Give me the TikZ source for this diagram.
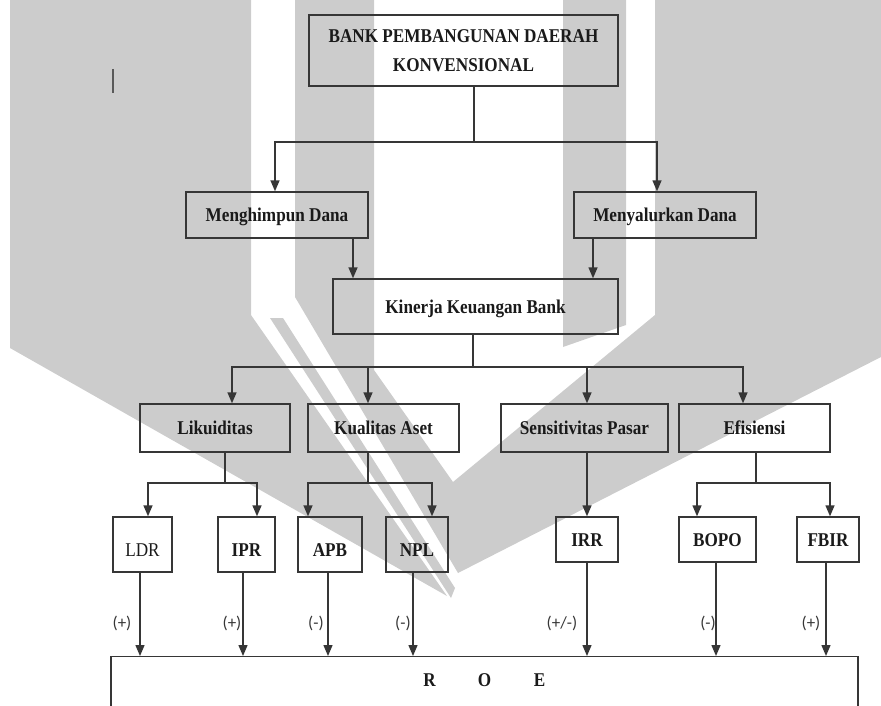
\documentclass[tikz,border=0pt]{standalone}
\usepackage{fontspec}
\usepackage{graphicx}
\setmainfont{Liberation Serif}
\newfontfamily\lblfont{Carlito}
\usetikzlibrary{arrows.meta,calc}
\definecolor{wmcol}{HTML}{CCCCCC}
\definecolor{lncol}{HTML}{363636}
\definecolor{txcol}{HTML}{1A1A1A}
\newcommand{\cz}[1]{\scalebox{0.88}[1]{#1}}
\begin{document}
\begin{tikzpicture}[x=1pt,y=-1pt,
  box/.style={draw=lncol, line width=1.4pt, inner sep=0pt, text=txcol,
    font=\fontsize{19.5}{24}\selectfont\bfseries},
  onel/.style={text height=13.5pt, text depth=0pt},
  tall/.style={text height=24.5pt, text depth=0pt},
  wire/.style={draw=lncol, line width=1.4pt},
  arr/.style={wire, -{Triangle[length=11pt,width=9pt]}},
  sg/.style={font=\lblfont\fontsize{17}{20}\selectfont, text=lncol, inner sep=0pt}]
\clip (0,0) rectangle (881,706);
% watermark
\fill[wmcol] (10,0) -- (251,0) -- (251,315) -- (447,596) -- (10,348) -- cycle;
\fill[wmcol] (270,318) -- (283,318) -- (455,588) -- (451,598) -- cycle;
\fill[wmcol] (295,0) -- (374,0) -- (374,370) -- (453,482) -- (655,315) -- (655,0)
   -- (881,0) -- (881,357) -- (458,573) -- (295,297) -- cycle;
\fill[wmcol] (563,0) -- (626,0) -- (626,325) -- (563,347) -- cycle;
\draw[draw=black!65, line width=1.2pt] (113,69) -- (113,93);
% nodes
\node[box, minimum width=309, minimum height=71, align=center,
  font=\fontsize{19.5}{29}\selectfont\bfseries] (top) at (463.5,50.5)
  {\cz{BANK PEMBANGUNAN DAERAH}\\\cz{KONVENSIONAL}};
\node[box, onel, minimum width=182, minimum height=46] (mh) at (277,215) {\cz{Menghimpun Dana}};
\node[box, onel, minimum width=182, minimum height=46] (my) at (665,215) {\cz{Menyalurkan Dana}};
\node[box, onel, minimum width=285, minimum height=55] (kin) at (475.5,306.5) {\cz{Kinerja Keuangan Bank}};
\node[box, onel, minimum width=150, minimum height=48] (lik) at (215,428) {\cz{Likuiditas}};
\node[box, onel, minimum width=151, minimum height=48] (kua) at (383.5,428) {\cz{Kualitas Aset}};
\node[box, onel, minimum width=167, minimum height=48] (sen) at (584.5,428) {\cz{Sensitivitas Pasar}};
\node[box, onel, minimum width=151, minimum height=48] (efi) at (754.5,428) {\cz{Efisiensi}};
\node[box, tall, minimum width=59, minimum height=55] (ldr) at (142.5,544.5) {\cz{\mdseries LDR}};
\node[box, tall, minimum width=57, minimum height=55] (ipr) at (246.5,544.5) {\cz{IPR}};
\node[box, tall, minimum width=64, minimum height=55] (apb) at (330,544.5) {\cz{APB}};
\node[box, tall, minimum width=62, minimum height=55] (npl) at (417,544.5) {\cz{NPL}};
\node[box, onel, minimum width=62, minimum height=45] (irr) at (587,539.5) {\cz{IRR}};
\node[box, onel, minimum width=77, minimum height=45] (bopo) at (717.5,539.5) {\cz{BOPO}};
\node[box, onel, minimum width=62, minimum height=45] (fbir) at (828,539.5) {\cz{FBIR}};
\node[box, anchor=north, minimum width=747, text height=14pt, text depth=80pt, inner ysep=16pt]
  (roe) at (484.5,656) {\makebox[55pt]{\cz{R}}\makebox[55pt]{\cz{O}}\makebox[55pt]{\cz{E}}};
% connectors
\coordinate (j1) at (474,142);
\draw[wire] (top.south -| j1) -- (j1);
\draw[arr] (j1) -| ([xshift=-2pt]mh.north);
\draw[arr] (j1) -| ([xshift=-8pt]my.north);
\draw[arr] ([xshift=76pt]mh.south) -- ([xshift=76pt]mh.south |- kin.north);
\draw[arr] ([xshift=-72pt]my.south) -- ([xshift=-72pt]my.south |- kin.north);
\coordinate (j2) at (473,367);
\draw[wire] (kin.south -| j2) -- (j2);
\draw[arr] (j2) -| ([xshift=17pt]lik.north);
\draw[arr] (j2) -| ([xshift=-15.5pt]kua.north);
\draw[arr] (j2) -| ([xshift=2.5pt]sen.north);
\draw[arr] (j2) -| ([xshift=-11.5pt]efi.north);
\coordinate (j3) at (225,483);
\draw[wire] (lik.south -| j3) -- (j3);
\draw[arr] (j3) -| ([xshift=5.5pt]ldr.north);
\draw[arr] (j3) -| ([xshift=10.5pt]ipr.north);
\coordinate (j4) at (368,483);
\draw[wire] (kua.south -| j4) -- (j4);
\draw[arr] (j4) -| ([xshift=-22pt]apb.north);
\draw[arr] (j4) -| ([xshift=15pt]npl.north);
\draw[arr] (irr.north |- sen.south) -- (irr.north);
\coordinate (j5) at (756,483);
\draw[wire] (efi.south -| j5) -- (j5);
\draw[arr] (j5) -| ([xshift=-20.5pt]bopo.north);
\draw[arr] (j5) -| ([xshift=2pt]fbir.north);
\draw[arr] ([xshift=-2.5pt]ldr.south) -- ([xshift=-2.5pt]ldr.south |- roe.north);
\draw[arr] ([xshift=-3.5pt]ipr.south) -- ([xshift=-3.5pt]ipr.south |- roe.north);
\draw[arr] ([xshift=-2pt]apb.south) -- ([xshift=-2pt]apb.south |- roe.north);
\draw[arr] ([xshift=-4pt]npl.south) -- ([xshift=-4pt]npl.south |- roe.north);
\draw[arr] (irr.south) -- (irr.south |- roe.north);
\draw[arr] ([xshift=-1.5pt]bopo.south) -- ([xshift=-1.5pt]bopo.south |- roe.north);
\draw[arr] ([xshift=-2pt]fbir.south) -- ([xshift=-2pt]fbir.south |- roe.north);
% signs
\node[sg] (s1) at (122,623) {(+)};
\node[sg] (s2) at (232,623) {(+)};
\node[sg] (s3) at (316,623) {(-)};
\node[sg] (s4) at (403,623) {(-)};
\node[sg] (s5) at (562,623) {(+/-)};
\node[sg] (s6) at (708,623) {(-)};
\node[sg] (s7) at (811,623) {(+)};
\end{tikzpicture}
\end{document}
